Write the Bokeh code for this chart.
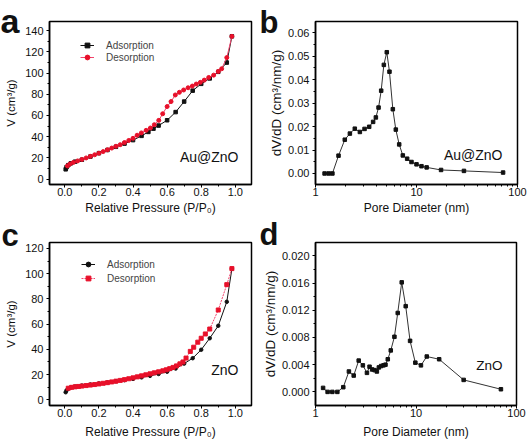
from bokeh.plotting import figure
from bokeh.layouts import row, column
from bokeh.models import (Range1d, FixedTicker, Label, Legend, LegendItem,
                          PrintfTickFormatter)
from bokeh.embed import file_html
from bokeh.resources import INLINE

FONT = "Liberation Sans"

# ---------------- data ----------------
# Panel a: Au@ZnO isotherm
a_ads_p = [0.005, 0.01, 0.02, 0.035, 0.06, 0.1, 0.15, 0.2, 0.25, 0.3, 0.35, 0.4, 0.45,
           0.49, 0.52, 0.55, 0.6, 0.65, 0.7, 0.75, 0.8, 0.85, 0.9, 0.95, 0.98]
a_ads_v = [9.3, 11.3, 13.2, 14.9, 16.5, 18.3, 21.3, 24.5, 27.5, 30.5, 33.5, 36.8, 40.8,
           44.5, 47.6, 50.5, 55.5, 63.2, 73.1, 83.4, 89.8, 94.9, 101.1, 109.8, 134.5]
a_des_p = [0.98, 0.95, 0.92, 0.90, 0.873, 0.844, 0.818, 0.795, 0.771, 0.748, 0.723, 0.697,
           0.672, 0.648, 0.623, 0.60, 0.574, 0.551, 0.525, 0.502, 0.477, 0.449, 0.424, 0.40,
           0.375, 0.35, 0.325, 0.30, 0.275, 0.25, 0.225, 0.20, 0.175, 0.15, 0.125, 0.10,
           0.075, 0.05, 0.03, 0.015]
a_des_v = [134.5, 114.5, 104.0, 101.5, 98.0, 95.8, 93.3, 91.2, 89.6, 87.7, 86.1, 84.0,
           81.8, 79.3, 73.1, 68.4, 61.6, 55.4, 51.3, 48.2, 46.0, 43.6, 41.4, 38.5,
           36.5, 34.5, 32.5, 31.0, 29.3, 27.7, 26.0, 24.5, 23.0, 21.5, 20.0, 18.6,
           17.2, 15.8, 14.3, 12.5]

# Panel b: Au@ZnO pore size distribution
b_d = [1.23, 1.35, 1.47, 1.69, 1.95, 2.19, 2.45, 2.75, 3.06, 3.40, 3.72, 3.96, 4.21,
       4.47, 4.75, 5.08, 5.40, 5.83, 6.24, 6.74, 7.32, 8.08, 8.92, 10.0, 11.2, 12.6,
       17.5, 29.5, 72.0]
b_v = [0.0, 0.0, 0.0, 0.0076, 0.0144, 0.0170, 0.0191, 0.0177, 0.0190, 0.0199, 0.0220,
       0.0239, 0.0281, 0.0353, 0.0463, 0.0517, 0.0434, 0.0274, 0.0187, 0.0124, 0.0077,
       0.0063, 0.0049, 0.0039, 0.0031, 0.0026, 0.0015, 0.0011, 0.0004]

# Panel c: ZnO isotherm
c_ads_p = [0.005, 0.01, 0.02, 0.035, 0.06, 0.1, 0.15, 0.2, 0.25, 0.3, 0.35, 0.4, 0.45,
           0.5, 0.55, 0.6, 0.65, 0.7, 0.75, 0.8, 0.85, 0.9, 0.95, 0.98]
c_ads_v = [6.0, 7.5, 8.8, 9.8, 10.5, 11.3, 12.2, 13.0, 13.8, 14.7, 15.6, 16.6, 17.8,
           19.0, 20.5, 22.3, 24.8, 28.7, 33.0, 39.7, 48.8, 58.7, 77.7, 103.8]
c_des_p = [0.98, 0.95, 0.90, 0.85, 0.824, 0.80, 0.78, 0.756, 0.736, 0.711, 0.693, 0.675,
           0.655, 0.635, 0.615, 0.595, 0.575, 0.55, 0.525, 0.5, 0.475, 0.45, 0.425, 0.4,
           0.375, 0.35, 0.325, 0.3, 0.275, 0.25, 0.225, 0.2, 0.175, 0.15, 0.125, 0.1,
           0.08, 0.06, 0.04, 0.02]
c_des_v = [104.0, 91.3, 71.2, 56.1, 52.2, 48.8, 45.7, 41.7, 38.4, 33.1, 30.0, 28.5,
           26.9, 25.7, 24.7, 23.8, 23.0, 22.2, 21.4, 20.6, 19.8, 19.0, 18.2, 17.4,
           16.7, 16.0, 15.4, 14.8, 14.2, 13.6, 13.1, 12.6, 12.1, 11.7, 11.3, 10.9,
           10.6, 10.3, 9.9, 9.2]

# Panel d: ZnO pore size distribution
d_d = [1.19, 1.32, 1.47, 1.65, 1.89, 2.15, 2.40, 2.69, 2.96, 3.25, 3.45, 3.66, 3.87,
       4.08, 4.27, 4.50, 4.75, 4.97, 5.24, 5.61, 6.10, 6.58, 7.21, 7.90, 8.73, 9.85,
       11.2, 12.8, 17.0, 29.8, 70.0]
d_v = [0.00059, 0.0, 0.0, 0.0, 0.00069, 0.0030, 0.0024, 0.0046, 0.0039, 0.0028, 0.0037,
       0.0033, 0.0032, 0.0030, 0.0036, 0.0038, 0.0039, 0.0040, 0.0048, 0.0061, 0.0081,
       0.0116, 0.0161, 0.0126, 0.0075, 0.0043, 0.0039, 0.0052, 0.0048, 0.00176, 0.00039]

# ticks
iso_x_ticks = [0.0, 0.2, 0.4, 0.6, 0.8, 1.0]
a_y_ticks = [0, 20, 40, 60, 80, 100, 120, 140]
c_y_ticks = [0, 20, 40, 60, 80, 100, 120]
pore_x_ticks = [1, 10, 100]
b_y_ticks = [0.0, 0.01, 0.02, 0.03, 0.04, 0.05, 0.06]
d_y_ticks = [0.0, 0.004, 0.008, 0.012, 0.016, 0.020]

RED_LINE = "#f2446e"
RED_MARK = "#e8102a"


def mids(t):
    return [(t[i] + t[i + 1]) / 2 for i in range(len(t) - 1)]


def base_fig(width, height, bl, br, bt, bb, x_range, y_range, x_log=False,
             xlabel_standoff=5):
    p = figure(width=width, height=height, x_range=x_range, y_range=y_range,
               x_axis_type="log" if x_log else "linear",
               output_backend="svg", toolbar_location=None,
               min_border_left=bl, min_border_right=br,
               min_border_top=bt, min_border_bottom=bb)
    p.xgrid.visible = False
    p.ygrid.visible = False
    p.outline_line_color = "black"
    p.outline_line_width = 1.5
    p.background_fill_color = "white"
    p.border_fill_color = "white"
    for ax in (p.xaxis[0], p.yaxis[0]):
        ax.axis_line_width = 1.5
        ax.axis_line_color = "black"
        ax.major_tick_in = 0
        ax.major_tick_out = 3
        ax.minor_tick_in = 0
        ax.minor_tick_out = 2
        ax.major_tick_line_color = "black"
        ax.minor_tick_line_color = "black"
        ax.major_label_text_font = FONT
        ax.major_label_text_font_size = "11px"
        ax.major_label_text_color = "#111111"
        ax.axis_label_text_font = FONT
        ax.axis_label_text_font_style = "normal"
        ax.axis_label_text_color = "#111111"
    p.xaxis.major_label_standoff = 0
    p.xaxis.axis_label_standoff = xlabel_standoff
    p.xaxis.axis_label_text_font_size = "12px"
    p.yaxis.major_label_standoff = 3
    return p


def add_text(p, text, x, y, size):
    p.add_layout(Label(x=x, y=y, x_units="screen", y_units="screen", text=text,
                       text_font=FONT, text_font_size=size, text_align="right",
                       text_baseline="middle", text_color="#111111"))


def set_letter(p, text, offset, standoff, size):
    # panel letter drawn as the figure title, pulled down beside the frame
    p.title.text = text
    p.title.align = "left"
    p.title.vertical_align = "bottom"
    p.title.offset = offset
    p.title.standoff = standoff
    p.title.text_font = FONT
    p.title.text_font_size = size
    p.title.text_font_style = "bold"
    p.title.text_color = "#111111"


def isotherm(width, height, bl, br, bt, bb, yr, yticks, ads_p, ads_v, des_p, des_v,
             ads_marker, des_marker, des_dash, name, legend_loc, legend_spacing, name_y,
             xlabel_standoff):
    p = base_fig(width, height, bl, br, bt, bb, Range1d(-0.09, 1.095), yr,
                 xlabel_standoff=xlabel_standoff)
    p.xaxis.ticker = FixedTicker(ticks=iso_x_ticks, minor_ticks=mids(iso_x_ticks))
    p.xaxis.formatter = PrintfTickFormatter(format="%.1f")
    p.yaxis.ticker = FixedTicker(ticks=yticks, minor_ticks=mids(yticks))
    p.yaxis.formatter = PrintfTickFormatter(format="%d")
    p.xaxis.axis_label = "Relative Pressure (P/P\u2080)"
    p.yaxis.axis_label = "V (cm\u00b3/g)"
    p.yaxis.axis_label_text_font_size = "11.5px"
    p.yaxis.axis_label_standoff = 5

    l1 = p.line(ads_p, ads_v, line_color="#111111", line_width=1)
    m1 = p.scatter(ads_p, ads_v, marker=ads_marker, size=3.5, fill_color="#111111",
                   line_color="#111111")
    l2 = p.line(des_p, des_v, line_color=RED_LINE, line_width=1, line_dash=des_dash)
    m2 = p.scatter(des_p, des_v, marker=des_marker, size=4, fill_color=RED_MARK,
                   line_color=RED_MARK)
    leg = Legend(items=[LegendItem(label="Adsorption", renderers=[l1, m1]),
                        LegendItem(label="Desorption", renderers=[l2, m2])],
                 location=legend_loc, border_line_color=None,
                 background_fill_alpha=0, padding=0, margin=0,
                 spacing=legend_spacing, glyph_width=14, glyph_height=12,
                 label_height=12, label_standoff=12,
                 label_text_font=FONT, label_text_font_size="10px")
    p.add_layout(leg)
    add_text(p, name, 189, name_y, "14px")
    return p


def pore(width, height, bl, br, bt, bb, yr, yticks, fmt, dd, vv, name, name_xy,
         name_size, xlabel_standoff):
    minor = [m * k for k in (1, 10) for m in range(2, 10)]
    p = base_fig(width, height, bl, br, bt, bb, Range1d(1, 100), yr, x_log=True,
                 xlabel_standoff=xlabel_standoff)
    p.xaxis.ticker = FixedTicker(ticks=pore_x_ticks, minor_ticks=minor)
    p.xaxis.formatter = PrintfTickFormatter(format="%d")
    p.yaxis.ticker = FixedTicker(ticks=yticks, minor_ticks=mids(yticks))
    p.yaxis.formatter = PrintfTickFormatter(format=fmt)
    p.xaxis.axis_label = "Pore Diameter (nm)"
    p.yaxis.axis_label = "dV/dD (cm\u00b3/nm/g)"
    p.yaxis.axis_label_text_font_size = "13.5px"
    p.yaxis.axis_label_standoff = 1
    p.line(dd, vv, line_color="#333333", line_width=1)
    p.scatter(dd, vv, marker="square", size=3.5, fill_color="#111111",
              line_color="#111111")
    add_text(p, name, name_xy[0], name_xy[1], name_size)
    return p


pa = isotherm(259, 217, 49, 8, 21, 32, Range1d(-5, 148.5), a_y_ticks,
              a_ads_p, a_ads_v, a_des_p, a_des_v, "square", "circle", "solid",
              "Au@ZnO", (31, 121), 0, 28, 2)
pb = pore(271, 217, 56, 13, 21, 33, Range1d(-0.0047, 0.0648), b_y_ticks, "%.2f",
          b_d, b_v, "Au@ZnO", (187, 30), "14px", 2)
pc = isotherm(259, 228, 49, 8, 24, 39, Range1d(-4.5, 124.7), c_y_ticks,
              c_ads_p, c_ads_v, c_des_p, c_des_v, "circle", "square", "2 1",
              "ZnO", (32, 121), 2, 36, 5)
pd = pore(271, 228, 56, 14, 25, 40, Range1d(-0.002, 0.02196), d_y_ticks, "%.3f",
          d_d, d_v, "ZnO", (187, 40), "13.5px", 5)

# panel letters
set_letter(pa, "a", -49, -36, "34px")
set_letter(pb, "b", -56, -37, "31px")
set_letter(pc, "c", -48, -21, "31px")
set_letter(pd, "d", -56, -19, "31px")

layout = column(row(pa, pb), row(pc, pd))

open("out.html", "w").write(file_html(layout, INLINE))
